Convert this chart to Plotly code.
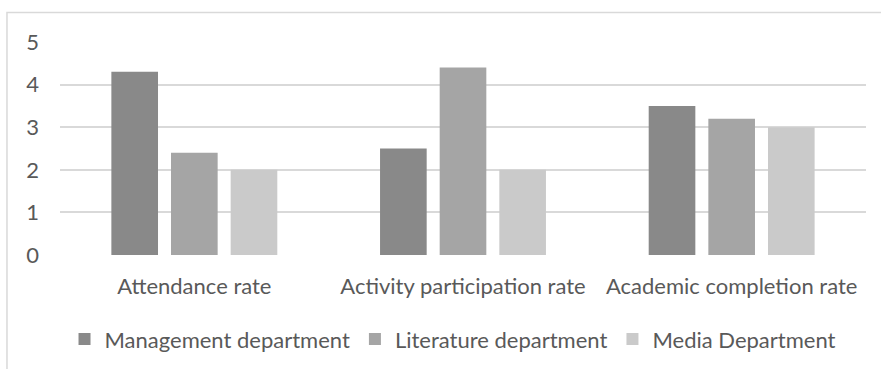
import plotly.graph_objects as go

categories = ["Attendance rate", "Activity participation rate", "Academic completion rate"]
management = [4.3, 2.5, 3.5]
literature = [2.4, 4.4, 3.2]
media = [2.0, 2.0, 3.0]
y_ticks = [0, 1, 2, 3, 4, 5]

series = [
    ("Management department", management, "#898989"),
    ("Literature department", literature, "#a5a5a5"),
    ("Media Department", media, "#cacaca"),
]

FONT = "Lato"
TEXT = "#595959"
SIZE = 22

fig = go.Figure()
for name, vals, color in series:
    fig.add_trace(go.Bar(
        x=categories, y=vals, name=name,
        marker=dict(color=color, line=dict(width=0)),
    ))

fig.update_layout(
    width=881, height=369,
    margin=dict(l=60, r=15, t=41.5, b=114, autoexpand=False),
    paper_bgcolor="white", plot_bgcolor="white",
    barmode="group", bargap=0.334, bargroupgap=0.218,
    font=dict(family=FONT, size=SIZE, color=TEXT),
    showlegend=True,
    legend=dict(
        orientation="h", x=0.487, xanchor="center", y=-0.395, yanchor="middle",
        font=dict(family=FONT, size=SIZE, color=TEXT),
        itemwidth=30, tracegroupgap=0,
    ),
    xaxis=dict(
        showgrid=False, zeroline=False, showline=False, ticks="",
        automargin=False,
        ticklabelstandoff=16, tickfont=dict(size=SIZE, color=TEXT),
    ),
    yaxis=dict(
        range=[0, 5], tickvals=y_ticks, showgrid=True, gridcolor="#d9d9d9",
        gridwidth=1.5, zeroline=False, showline=False, ticks="",
        automargin=False,
        ticklabelstandoff=20, tickfont=dict(size=SIZE, color=TEXT),
    ),
)

# light chart-area frame
fig.add_shape(
    type="rect", xref="paper", yref="paper",
    x0=-0.0658, x1=1.05, y0=-0.6, y1=1.138,
    line=dict(color="#d9d9d9", width=1.5), fillcolor="rgba(0,0,0,0)",
    layer="below",
)

fig.write_html("out.html")
